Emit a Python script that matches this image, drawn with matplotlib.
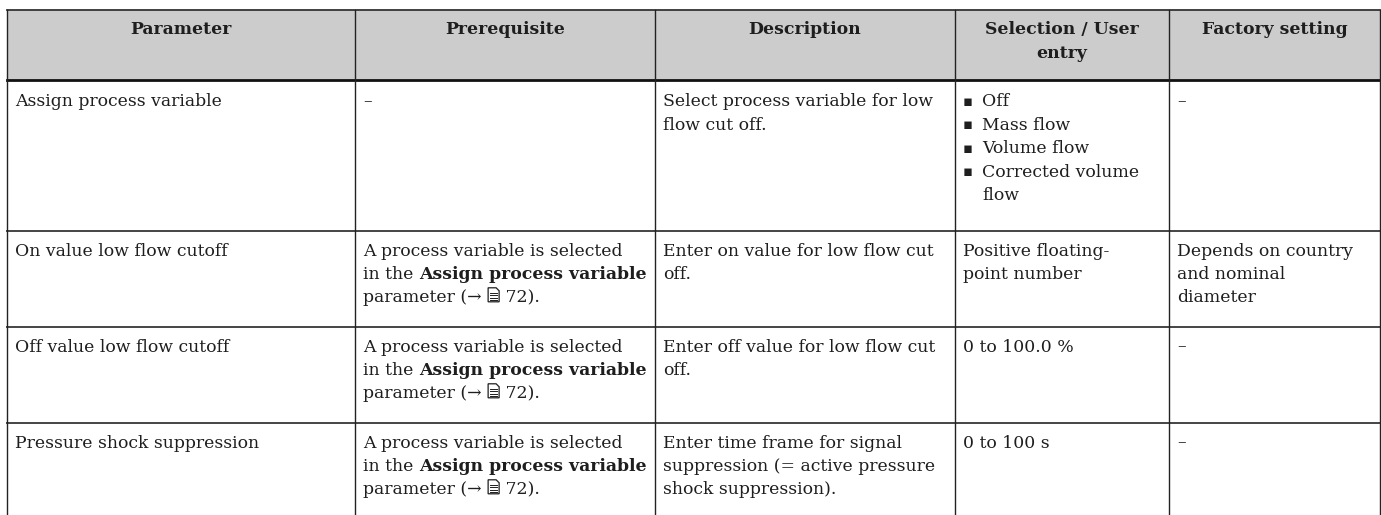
import matplotlib
matplotlib.use("Agg")
import matplotlib.pyplot as plt
from matplotlib.patches import Polygon

# Table content
headers = ["Parameter", "Prerequisite", "Description", "Selection / User\nentry", "Factory setting"]

parameters = [
    "Assign process variable",
    "On value low flow cutoff",
    "Off value low flow cutoff",
    "Pressure shock suppression",
]

# prerequisite lines, each line is a list of (text, style) pieces
# style: "n" normal, "b" bold, "icon" page reference icon
prereq_selected = [
    [("A process variable is selected", "n")],
    [("in the ", "n"), ("Assign process variable", "b")],
    [("parameter (\u2192 ", "n"), ("", "icon"), (" 72).", "n")],
]
prerequisites = [
    [[("\u2013", "n")]],
    prereq_selected,
    prereq_selected,
    prereq_selected,
]

descriptions = [
    ["Select process variable for low", "flow cut off."],
    ["Enter on value for low flow cut", "off."],
    ["Enter off value for low flow cut", "off."],
    ["Enter time frame for signal", "suppression (= active pressure", "shock suppression)."],
]

selections = [
    [("\u25aa", "Off"), ("\u25aa", "Mass flow"), ("\u25aa", "Volume flow"),
     ("\u25aa", "Corrected volume"), ("", "flow")],
    [("", "Positive floating-"), ("", "point number")],
    [("", "0 to 100.0 %")],
    [("", "0 to 100 s")],
]

factory = [
    ["\u2013"],
    ["Depends on country", "and nominal", "diameter"],
    ["\u2013"],
    ["\u2013"],
]

# layout in pixels
W, H = 1381, 515
col_edges = [7, 355, 655, 955, 1169, 1380]
row_edges = [10, 80, 231, 327, 423, 540]
pad_x = 8
pad_top = 18
line_h = 23.4
fs = 12.4
font = ["DejaVu Serif", "DejaVu Sans"]
text_color = "#1e1e1e"

fig = plt.figure(figsize=(W / 100, H / 100), dpi=100)
ax = fig.add_axes([0, 0, 1, 1])
ax.set_xlim(0, W)
ax.set_ylim(H, 0)
ax.axis("off")
renderer = fig.canvas.get_renderer()

# header background
ax.fill_between([col_edges[0], col_edges[-1]], row_edges[0], row_edges[1],
                color="#cccccc", lw=0, zorder=0)

# horizontal lines
ax.plot([col_edges[0], col_edges[-1]], [row_edges[0]] * 2, color="#333333", lw=1.3)
ax.plot([col_edges[0], col_edges[-1]], [row_edges[1]] * 2, color="#111111", lw=2.0)
for y in row_edges[2:-1]:
    ax.plot([col_edges[0], col_edges[-1]], [y, y], color="#444444", lw=1.4)
# vertical lines
for x in col_edges:
    ax.plot([x, x], [row_edges[0], H], color="#222222", lw=1.0)


def draw_icon(x, y):
    # small page symbol with folded corner and text lines (no font has this glyph)
    w, h = 11, 14
    top = y - h / 2 - 1
    page = Polygon([(x, top), (x + w - 3, top), (x + w, top + 3), (x + w, top + h), (x, top + h)],
                   closed=True, fill=False, ec=text_color, lw=0.9)
    ax.add_patch(page)
    for k in range(4):
        yy = top + 5 + k * 2.4
        ax.plot([x + 2, x + w - 2], [yy, yy], color=text_color, lw=0.7)
    return w + 2


def put_pieces(x, y, pieces):
    for txt, style in pieces:
        if style == "icon":
            x += draw_icon(x + 1, y)
            continue
        t = ax.text(x, y, txt, fontsize=fs, family=font, color=text_color,
                    fontweight="bold" if style == "b" else "normal",
                    ha="left", va="center_baseline")
        x += t.get_window_extent(renderer).width


# header text
for i, h in enumerate(headers):
    cx = (col_edges[i] + col_edges[i + 1]) / 2
    for j, ln in enumerate(h.split("\n")):
        ax.text(cx, row_edges[0] + pad_top + j * line_h, ln, fontsize=fs, family=font,
                fontweight="bold", color=text_color, ha="center", va="center_baseline")

# body
for r in range(len(parameters)):
    y0 = row_edges[r + 1] + pad_top + (2 if r == 0 else 0)
    ax.text(col_edges[0] + pad_x, y0, parameters[r], fontsize=fs, family=font,
            color=text_color, ha="left", va="center_baseline")
    for j, pieces in enumerate(prerequisites[r]):
        put_pieces(col_edges[1] + pad_x, y0 + j * line_h, pieces)
    for j, ln in enumerate(descriptions[r]):
        ax.text(col_edges[2] + pad_x, y0 + j * line_h, ln, fontsize=fs, family=font,
                color=text_color, ha="left", va="center_baseline")
    has_bullets = any(b for b, _ in selections[r])
    for j, (bullet, ln) in enumerate(selections[r]):
        tx = col_edges[3] + pad_x
        if has_bullets:
            if bullet:
                ax.text(tx, y0 + j * line_h, bullet, fontsize=fs * 0.85, family=["DejaVu Sans"],
                        color=text_color, ha="left", va="center_baseline")
            tx += 19
        ax.text(tx, y0 + j * line_h, ln, fontsize=fs, family=font,
                color=text_color, ha="left", va="center_baseline")
    for j, ln in enumerate(factory[r]):
        ax.text(col_edges[4] + pad_x, y0 + j * line_h, ln, fontsize=fs, family=font,
                color=text_color, ha="left", va="center_baseline")

fig.savefig("out.png", dpi=100)
